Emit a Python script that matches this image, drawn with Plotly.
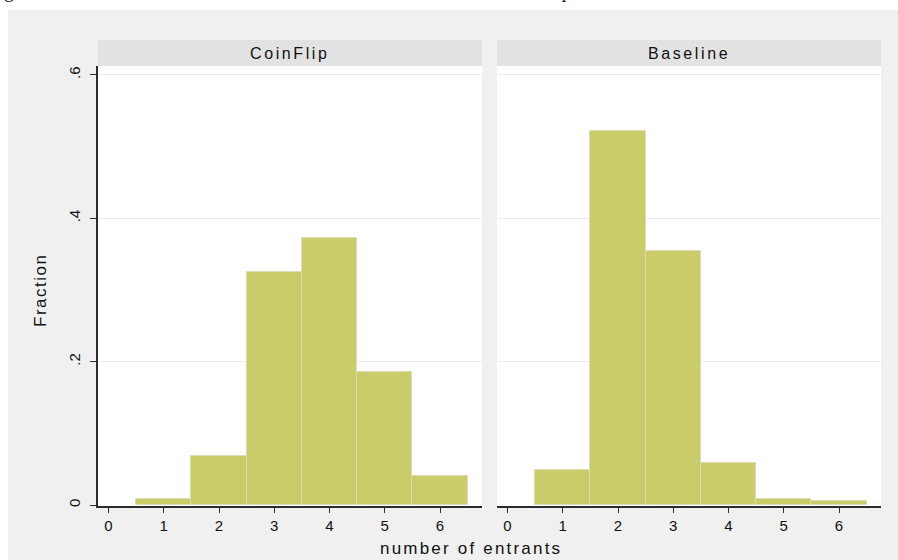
import plotly.graph_objects as go

# Histogram data: fraction of rounds by number of entrants
entrants = [1, 2, 3, 4, 5, 6]
coinflip = [0.009, 0.069, 0.325, 0.372, 0.185, 0.040]
baseline = [0.049, 0.522, 0.355, 0.058, 0.008, 0.006]

panel_titles = ["CoinFlip", "Baseline"]
x_ticks = [0, 1, 2, 3, 4, 5, 6]
y_ticks = [0, 0.2, 0.4, 0.6]
y_tick_text = ["0", ".2", ".4", ".6"]

W, H = 898, 560
FILL = "#cacc6a"
EDGE = "#dedcb6"
AXIS = "#2b2b2b"
TEXT = "#111111"
FONT = "Liberation Sans, Arial, sans-serif"


def fx(p):
    return p / W


def fy(p):
    return 1 - p / H


def spaced(s, px=1.5):
    # widen the tracking of a label
    return f'<span style="letter-spacing:{px}px">{s}</span>'


panels = [(98, 482), (497, 881)]
plot_top, plot_bot = 66, 506

fig = go.Figure()
for i, vals in enumerate([coinflip, baseline]):
    sfx = "" if i == 0 else str(i + 1)
    fig.add_trace(go.Bar(
        x=entrants, y=vals, width=1,
        xaxis="x" + sfx, yaxis="y" + sfx,
        marker=dict(color=FILL, line=dict(color=EDGE, width=1)),
        showlegend=False, hoverinfo="x+y",
    ))

shapes = [
    # outer graph region
    dict(type="rect", xref="paper", yref="paper", x0=fx(8), x1=1, y0=0, y1=fy(10),
         fillcolor="#f0f0f0", line=dict(width=0), layer="below"),
]
annotations = []
for (l, r), title in zip(panels, panel_titles):
    shapes.append(dict(type="rect", xref="paper", yref="paper", x0=fx(l), x1=fx(r),
                       y0=fy(plot_bot), y1=fy(plot_top), fillcolor="white",
                       line=dict(width=0), layer="below"))
    shapes.append(dict(type="rect", xref="paper", yref="paper", x0=fx(l), x1=fx(r),
                       y0=fy(66), y1=fy(40), fillcolor="#e2e2e2",
                       line=dict(width=0), layer="below"))
    annotations.append(dict(text=spaced(title, 2.6), xref="paper", yref="paper",
                            x=fx((l + r) / 2), y=fy(53), showarrow=False,
                            xanchor="center", yanchor="middle",
                            font=dict(family=FONT, size=16, color=TEXT)))

annotations += [
    dict(text=spaced("number of entrants", 2.2), xref="paper", yref="paper",
         x=fx(471), y=fy(548), showarrow=False, xanchor="center", yanchor="middle",
         font=dict(family=FONT, size=17, color=TEXT)),
    dict(text=spaced("Fraction", 1.5), xref="paper", yref="paper", x=fx(40), y=fy(291),
         showarrow=False, xanchor="center", yanchor="middle", textangle=-90,
         font=dict(family=FONT, size=17, color=TEXT)),
    # descenders of the caption line above the figure
    dict(text="g", xref="paper", yref="paper", x=fx(9), y=fy(4),
         showarrow=False, xanchor="center", yanchor="bottom",
         font=dict(family="Liberation Serif, serif", size=20, color="#222")),
    dict(text="<i>p</i>", xref="paper", yref="paper", x=fx(567), y=fy(4),
         showarrow=False, xanchor="center", yanchor="bottom",
         font=dict(family="Liberation Serif, serif", size=20, color="#222")),
]

xaxis_common = dict(
    range=[-0.19, 6.76], tickvals=x_ticks, ticktext=[str(t) for t in x_ticks],
    showline=True, linecolor=AXIS, linewidth=1.5, ticks="outside", ticklen=5,
    tickwidth=1.2, tickcolor=AXIS, showgrid=False, zeroline=False,
    tickfont=dict(family=FONT, size=15, color=TEXT),
    fixedrange=True,
)
yaxis_common = dict(
    range=[-0.0013, 0.6125], tickvals=y_ticks, ticktext=y_tick_text,
    domain=[fy(plot_bot), fy(plot_top)], showgrid=True, gridcolor="#ececec",
    gridwidth=1, zeroline=False, fixedrange=True,
)

fig.update_layout(
    width=W, height=H,
    margin=dict(l=0, r=0, t=0, b=0),
    paper_bgcolor="white", plot_bgcolor="rgba(0,0,0,0)",
    bargap=0,
    xaxis=dict(xaxis_common, domain=[fx(98), fx(482)], anchor="y"),
    xaxis2=dict(xaxis_common, domain=[fx(497), fx(881)], anchor="y2"),
    yaxis=dict(yaxis_common, anchor="x", showline=True, linecolor=AXIS, linewidth=1.5,
               ticks="outside", ticklen=6, tickwidth=1.2, tickcolor=AXIS,
               tickangle=-90, ticklabelstandoff=4,
               tickfont=dict(family=FONT, size=15, color=TEXT)),
    yaxis2=dict(yaxis_common, anchor="x2", matches="y", showline=False,
                showticklabels=False, ticks=""),
    shapes=shapes,
    annotations=annotations,
)

fig.write_html("out.html")
